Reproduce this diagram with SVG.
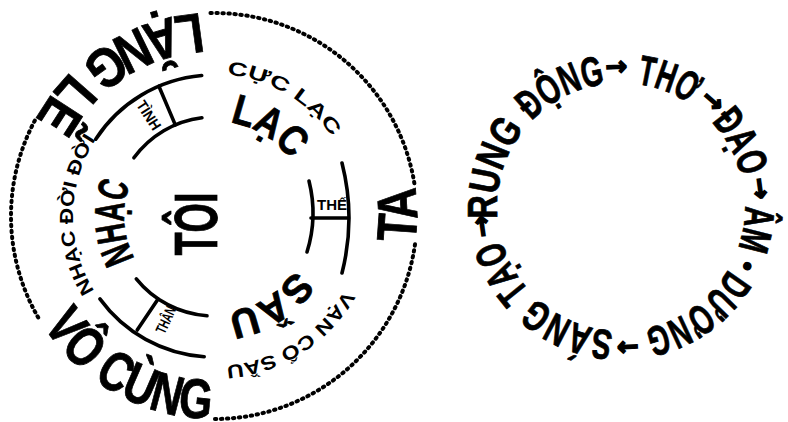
<svg xmlns="http://www.w3.org/2000/svg" width="788" height="422" viewBox="0 0 788 422">
<style>
.t{font-family:"Liberation Sans",Arial,sans-serif;font-weight:bold;fill:#000}
.big{stroke:#000;stroke-width:0.8}
.ar{font-family:"DejaVu Sans","Liberation Sans",sans-serif;font-weight:bold;fill:#000;stroke:#000;stroke-width:1.6}
.dot{fill:none;stroke:#000;stroke-width:4;stroke-linecap:round;stroke-dasharray:1.4 4.6}
.ln{fill:none;stroke:#000;stroke-width:3.6;stroke-linecap:round}
</style>
<defs>
<path id="pOuter" d="M249.25 415.92 A203 203 0 0 0 178.75 16.08 A203 203 0 0 0 249.25 415.92"/>
<path id="p142" d="M214 358 A142 142 0 0 1 214 74 A142 142 0 0 1 214 358"/>
<path id="p95" d="M214 311 A95 95 0 0 1 214 121 A95 95 0 0 1 214 311"/>
<path id="p141" d="M214 357 A141 141 0 0 1 214 75 A141 141 0 0 1 214 357"/>
<path id="p90" d="M214 306 A90 90 0 0 1 214 126 A90 90 0 0 1 214 306"/>
<path id="p150" d="M214 366 A150 150 0 0 1 214 66 A150 150 0 0 1 214 366"/>
<path id="p97" d="M214 313 A97 97 0 0 1 214 119 A97 97 0 0 1 214 313"/>
<path id="pR" d="M498.88 228.53 A124 124 0 0 1 743.12 185.47 A124 124 0 0 1 498.88 228.53"/>
<path id="pA" d="M506.68 273 A132 132 0 0 1 735.32 141 A132 132 0 0 1 506.68 273"/>
</defs>

<g id="outer-ring">
<path class="dot" d="M210.46 13.03 A203 203 0 0 1 414.5 184.2"/>
<path class="dot" d="M415 244.3 A203 203 0 0 1 210.5 419"/>
<path class="dot" d="M38.2 317.5 A203 203 0 0 1 36.45 117.6"/>
</g>

<g id="lang-le"><text class="t big" font-size="56"><textPath href="#pOuter" startOffset="615" textLength="205" lengthAdjust="spacingAndGlyphs">LẶNG LẼ</textPath></text></g>
<g id="ta"><text class="t big" font-size="56"><textPath href="#pOuter" startOffset="256.5" textLength="56" lengthAdjust="spacingAndGlyphs">TA</textPath></text></g>
<g id="vo-cung"><text class="t big" font-size="56"><textPath href="#pOuter" startOffset="1036" textLength="200" lengthAdjust="spacingAndGlyphs">VÔ CÙNG</textPath></text></g>

<g id="cuc-lac"><text class="t" font-size="19"><textPath href="#p142" startOffset="459" textLength="126" lengthAdjust="spacingAndGlyphs">CỰC LẠC</textPath></text></g>
<g id="lac"><text class="t big" font-size="42"><textPath href="#p95" startOffset="314" textLength="73" lengthAdjust="spacingAndGlyphs">LẠC</textPath></text></g>
<g id="nhac-doi-doi"><text class="t" font-size="19"><textPath href="#p141" startOffset="142.5" textLength="160" lengthAdjust="spacingAndGlyphs">NHẠC ĐỜI ĐỜI</textPath></text></g>
<g id="nhac"><text class="t big" font-size="42"><textPath href="#p90" startOffset="97" textLength="77" lengthAdjust="spacingAndGlyphs">NHẠC</textPath></text></g>
<g id="van-co-sau"><text class="t" font-size="19"><textPath href="#p150" startOffset="784" textLength="146" lengthAdjust="spacingAndGlyphs">VẠN CỔ SẦU</textPath></text></g>
<g id="sau"><text class="t big" font-size="40"><textPath href="#p97" startOffset="513" textLength="82" lengthAdjust="spacingAndGlyphs">SẦU</textPath></text></g>
<g id="toi"><text class="t big" font-size="61" transform="translate(217 224) rotate(-90)" x="-31.5" y="0" textLength="63" lengthAdjust="spacingAndGlyphs">TÔI</text></g>

<g id="connectors">
<path class="ln" d="M95.7 139.2 A141 141 0 0 1 201.7 75.5"/>
<path class="ln" d="M133.9 157.8 A99 99 0 0 1 201.9 117.7"/>
<path class="ln" d="M175.3 124.9 L158.9 86.2"/>
<path class="ln" d="M204.2 356.7 A141 141 0 0 1 99.9 298.9"/>
<path class="ln" d="M207 315.8 A100 100 0 0 1 136.3 278.9"/>
<path class="ln" d="M158.1 298.9 L137.2 330"/>
<path class="ln" d="M309 181 Q318 217 307 252"/>
<path class="ln" d="M342 163 Q356 218 342 273"/>
<path class="ln" d="M311 218 L348 218"/>
</g>
<g id="bracket-labels">
<text class="t" font-size="15" transform="translate(148.6 115.4) rotate(57)" x="-16" y="5" textLength="32" lengthAdjust="spacingAndGlyphs">TÌNH</text>
<text class="t" font-size="15" x="317" y="210" textLength="30" lengthAdjust="spacingAndGlyphs">THẾ</text>
<text class="t" font-size="15" transform="translate(166 320) rotate(-65)" x="-14" y="5" textLength="28" lengthAdjust="spacingAndGlyphs">THÂN</text>
</g>

<g id="rung"><text class="t big" font-size="42"><textPath href="#pR" startOffset="10" textLength="96" lengthAdjust="spacingAndGlyphs">RUNG</textPath></text></g>
<g id="dong"><text class="t big" font-size="42"><textPath href="#pR" startOffset="116.5" textLength="84" lengthAdjust="spacingAndGlyphs">ĐỘNG</textPath></text></g>
<g id="tho"><text class="t big" font-size="42"><textPath href="#pR" startOffset="232" textLength="58" lengthAdjust="spacingAndGlyphs">THƠ</textPath></text></g>
<g id="dao"><text class="t big" font-size="42"><textPath href="#pR" startOffset="317" textLength="64" lengthAdjust="spacingAndGlyphs">ĐẠO</textPath></text></g>
<g id="am"><text class="t big" font-size="42"><textPath href="#pR" startOffset="410" textLength="43" lengthAdjust="spacingAndGlyphs">ÂM</textPath></text></g>
<g id="duong"><text class="t big" font-size="42"><textPath href="#pR" startOffset="476" textLength="106" lengthAdjust="spacingAndGlyphs">DƯƠNG</textPath></text></g>
<g id="sang"><text class="t big" font-size="42"><textPath href="#pR" startOffset="613.2" textLength="86" lengthAdjust="spacingAndGlyphs">SÁNG</textPath></text></g>
<g id="tao"><text class="t big" font-size="42"><textPath href="#pR" startOffset="708.1" textLength="59" lengthAdjust="spacingAndGlyphs">TẠO</textPath></text></g>

<g id="cycle-arrows" class="ar" font-size="26" text-anchor="middle">
<text><textPath href="#pA" startOffset="271.8">→</textPath></text>
<text><textPath href="#pA" startOffset="370.5">→</textPath></text>
<text><textPath href="#pA" startOffset="466">→</textPath></text>
<text font-size="20"><textPath href="#pA" startOffset="541.4">•</textPath></text>
<text><textPath href="#pA" startOffset="684.2">→</textPath></text>
<text><textPath href="#pA" startOffset="50.7">→</textPath></text>
</g>
</svg>
